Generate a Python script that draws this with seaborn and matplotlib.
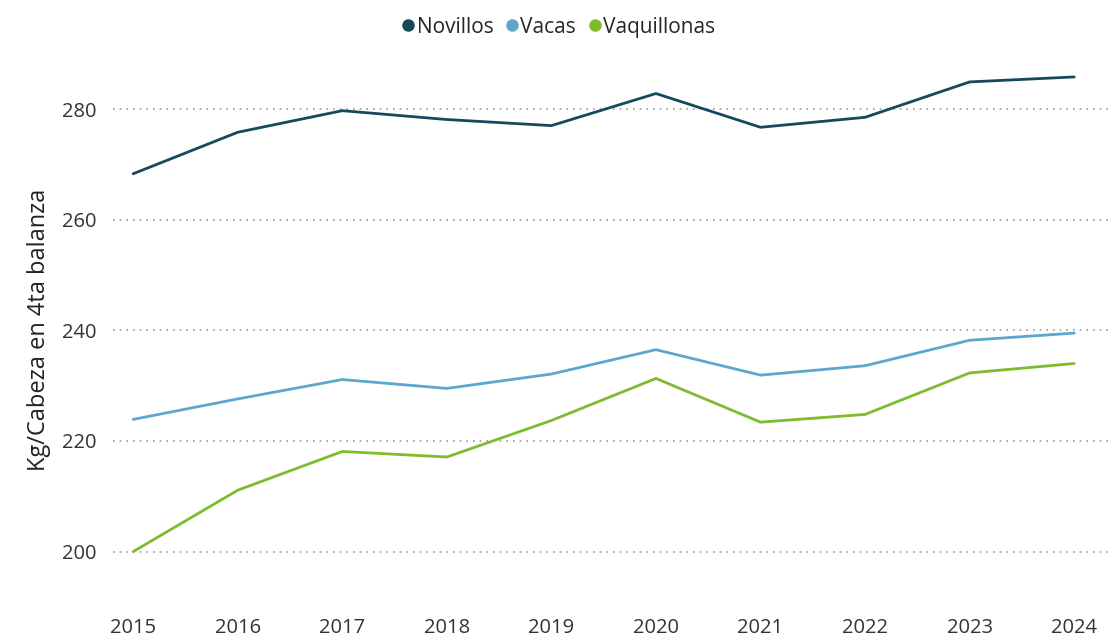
import matplotlib
matplotlib.use("Agg")
import matplotlib.pyplot as plt
import pandas as pd
import seaborn as sns

# valores (kg/cabeza en 4ta balanza)
years = [2015, 2016, 2017, 2018, 2019, 2020, 2021, 2022, 2023, 2024]
novillos = [268.3, 275.8, 279.7, 278.1, 277.0, 282.8, 276.7, 278.5, 284.9, 285.8]
vacas = [223.9, 227.6, 231.1, 229.5, 232.1, 236.5, 231.9, 233.6, 238.2, 239.5]
vaquillonas = [200.0, 211.1, 218.1, 217.1, 223.7, 231.3, 223.4, 224.8, 232.3, 234.0]

categorias = ["Novillos", "Vacas", "Vaquillonas"]
colores = ["#17485c", "#5ea6cc", "#7dbb2f"]
yticks = [200, 220, 240, 260, 280]

sns.set_theme(style="white")
plt.rcParams["font.family"] = ["Open Sans", "DejaVu Sans"]

df = pd.DataFrame({"year": years, "Novillos": novillos, "Vacas": vacas,
                   "Vaquillonas": vaquillonas})
long = df.melt(id_vars="year", var_name="categoria", value_name="kg")

fig = plt.figure(figsize=(11.11, 6.36), dpi=100)
ax = fig.add_axes([0.102, 0.057, 0.895, 0.849])

sns.lineplot(data=long, x="year", y="kg", hue="categoria", hue_order=categorias,
             palette=colores, linewidth=2, ax=ax, legend=False)

ax.set_xlim(2014.81, 2024.32)
ax.set_ylim(191.3, 288.9)
ax.set_xticks(years)
ax.set_yticks(yticks)
ax.tick_params(axis="both", length=0, labelsize=14.5, colors="#333333")
ax.tick_params(axis="x", pad=13)
ax.tick_params(axis="y", pad=12)
ax.grid(axis="y", linestyle=(0, (1, 3)), color="#999999", linewidth=1.2)
ax.grid(axis="x", visible=False)
for s in ax.spines.values():
    s.set_visible(False)
ax.set_xlabel("")
ax.set_ylabel("Kg/Cabeza en 4ta balanza", fontsize=17, color="#222222", labelpad=8)

handles = [plt.Line2D([], [], marker="o", linestyle="", markersize=8, color=c)
           for c in colores]
fig.legend(handles, categorias, loc="upper center", bbox_to_anchor=(0.5, 1.0),
           ncol=3, frameon=False, fontsize=15, handletextpad=-0.2,
           columnspacing=0.3, borderaxespad=0.4, handlelength=1.2)

fig.savefig("out.png", dpi=100)
